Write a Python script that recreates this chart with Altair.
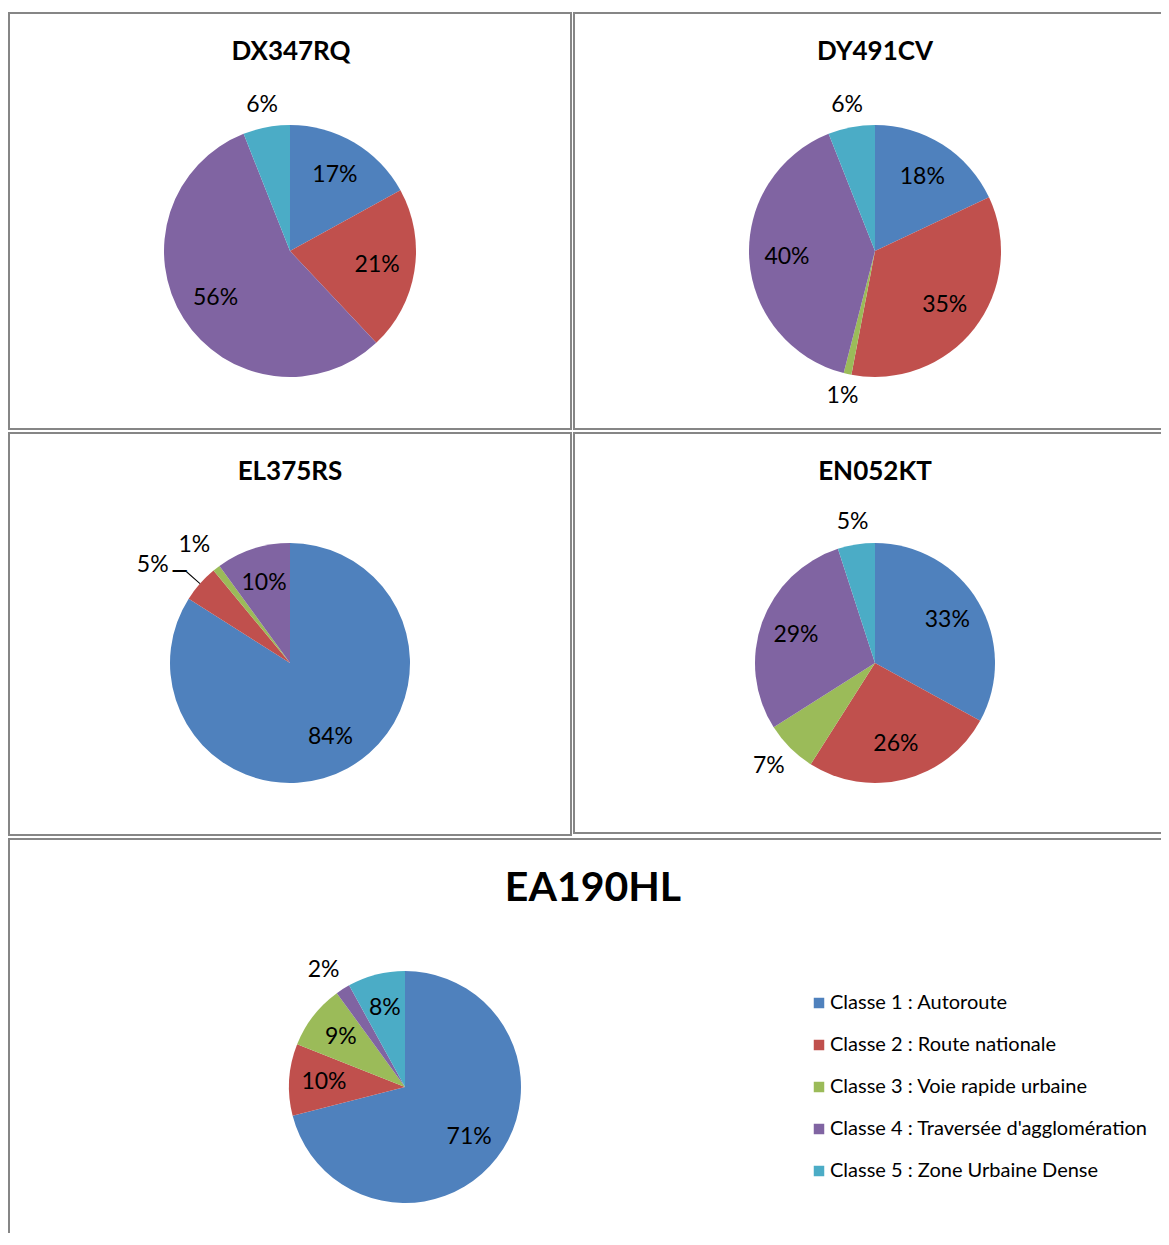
import math
import altair as alt
import pandas as pd

# ---- data ----
classes = [
    "Classe 1 : Autoroute",
    "Classe 2 : Route nationale",
    "Classe 3 : Voie rapide urbaine",
    "Classe 4 : Traversée d'agglomération",
    "Classe 5 : Zone Urbaine Dense",
]
colors = ["#4F81BD", "#C0504D", "#9BBB59", "#8064A2", "#4BACC6"]

vehicles = ["DX347RQ", "DY491CV", "EL375RS", "EN052KT", "EA190HL"]
dx347rq = [17, 21, 0, 56, 6]
dy491cv = [18, 35, 1, 40, 6]
el375rs = [84, 5, 1, 10, 0]
en052kt = [33, 26, 7, 29, 5]
ea190hl = [71, 10, 9, 2, 8]

# which class labels sit outside the pie (index into classes)
outside = {
    "DX347RQ": [4],
    "DY491CV": [2, 4],
    "EL375RS": [1, 2],
    "EN052KT": [2, 4],
    "EA190HL": [3],
}
# outside labels shifted from their default spot: (dx, dy, leader line?)
nudges = {
    "EL375RS": {1: (-30, -3, True), 2: (-8, -5, False)},
    "EN052KT": {2: (-5, 2, False)},
    "EA190HL": {3: (-7, 0, False)},
}

FONT = "Lato"
GRAY = "#868686"
LFS = 23


def frame(name, values):
    return pd.DataFrame({
        "classe": classes,
        "idx": list(range(len(classes))),
        "value": values,
        "out": [1 if i in outside.get(name, []) else 0 for i in range(len(classes))],
        "nudge": [1 if i in nudges.get(name, {}) else 0 for i in range(len(classes))],
    })


def panel(name, values, w, h, cx, cy, r, tx, ty, tsize, legend=None):
    df = frame(name, values)
    base = alt.Chart(df)
    theta = alt.Theta("value:Q", stack=True)
    order = alt.Order("idx:Q")
    pos = dict(x=alt.value(cx), y=alt.value(cy))

    color = alt.Color(
        "classe:N",
        scale=alt.Scale(domain=classes, range=colors),
        legend=legend,
    )
    layers = [base.mark_arc(outerRadius=r).encode(theta=theta, color=color, order=order, **pos)]

    lab = base.transform_calculate(pct="datum.value > 0 ? datum.value + '%' : ''")
    layers.append(lab.transform_calculate(
        t="datum.out == 0 ? datum.pct : ''"
    ).mark_text(radius=0.70 * r, font=FONT, fontSize=LFS, color="black").encode(
        theta=theta, order=order, text="t:N", **pos))
    layers.append(lab.transform_calculate(
        t="datum.out == 1 && datum.nudge == 0 ? datum.pct : ''"
    ).mark_text(radius=r + 23, font=FONT, fontSize=LFS, color="black").encode(
        theta=theta, order=order, text="t:N", **pos))

    for i, (ddx, ddy, leader) in nudges.get(name, {}).items():
        layers.append(lab.transform_calculate(
            t=f"datum.idx == {i} ? datum.pct : ''"
        ).mark_text(radius=r + 23, dx=ddx, dy=ddy, font=FONT, fontSize=LFS, color="black").encode(
            theta=theta, order=order, text="t:N", **pos))
        if leader:
            # radial part of the leader line, at the slice's mid angle
            layers.append(base.transform_window(
                cum="sum(value)", sort=[{"field": "idx"}], frame=[None, 0]
            ).transform_calculate(
                a0="datum.cum - datum.value / 2 - 0.06",
                a1="datum.cum - datum.value / 2 + 0.06",
            ).transform_filter(f"datum.idx == {i}").mark_arc(
                radius=r + 18, radius2=r, color="black"
            ).encode(
                theta=alt.Theta("a0:Q", stack=False, scale=alt.Scale(domain=[0, 100], range=[0, 2 * math.pi])),
                theta2="a1:Q", **pos))
            # horizontal part of the leader line
            layers.append(lab.transform_calculate(
                t=f"datum.idx == {i} ? '\u2500' : ''"
            ).mark_text(radius=r + 18, align="right", font="DejaVu Sans", fontSize=LFS,
                        color="black", baseline="middle").encode(
                theta=theta, order=order, text="t:N", **pos))

    layers.append(alt.Chart(pd.DataFrame({"t": [name]})).mark_text(
        font=FONT, fontSize=tsize, fontWeight="bold", color="black", baseline="middle"
    ).encode(text="t:N", x=alt.value(tx), y=alt.value(ty)))

    return alt.layer(*layers).properties(width=w, height=h)


RW = 603
p1 = panel("DX347RQ", dx347rq, 562, 416, 281, 238, 126, 282, 39, 26)
p2 = panel("DY491CV", dy491cv, RW, 416, 301, 238, 126, 301, 39, 26)
p3 = panel("EL375RS", el375rs, 562, 402, 281, 230, 120, 281, 39, 26)
p4 = panel("EN052KT", en052kt, RW, 400, 301, 230, 120, 301, 39, 26)
leg = alt.Legend(
    orient="none", legendX=800, legendY=154, title=None,
    symbolType="square", symbolSize=110, symbolStrokeWidth=0,
    labelFont=FONT, labelFontSize=20, labelColor="black", labelLimit=500,
    labelOffset=1, rowPadding=22, padding=0,
)
p5 = panel("EA190HL", ea190hl, 562 + 3 + RW, 430, 396, 248, 116, 584, 50, 41, legend=leg)

row1 = alt.hconcat(p1, p2, spacing=1)
row2 = alt.hconcat(p3, p4, spacing=1)
chart = alt.vconcat(row1, row2, p5, spacing=2).resolve_scale(color="independent").configure_view(
    stroke=GRAY, strokeWidth=2
).properties(padding={"left": 0, "top": 4, "right": -17, "bottom": -37})

chart.save("out.html", embed_options={"renderer": "svg", "actions": False})
